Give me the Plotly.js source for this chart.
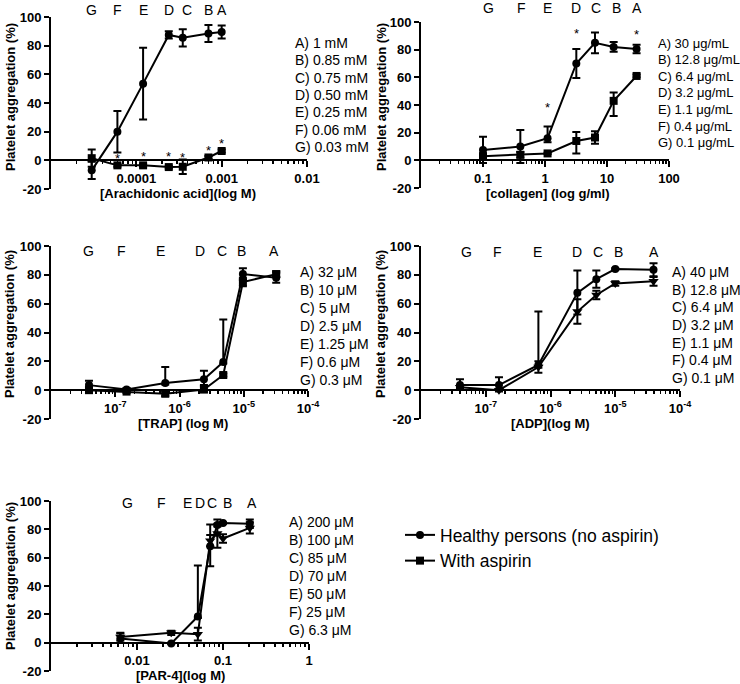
<!DOCTYPE html>
<html><head><meta charset="utf-8">
<script src="https://cdn.plot.ly/plotly-3.0.1.min.js"></script>
<style>body{margin:0;background:#fff}#chart{width:740px;height:684px}</style>
</head><body><div id="chart"></div><script>
// ---------- data (order G, F, E, D, C, B, A) ----------
const letters = ['G','F','E','D','C','B','A'];
const seriesNames = ['Healthy persons (no aspirin)', 'With aspirin'];

// Arachidonic acid (M)
const aaConc = [3e-5, 6e-5, 1.2e-4, 2.4e-4, 3.5e-4, 7e-4, 1e-3];
const aaHealthy = [-7, 20, 53.5, 87.5, 85.5, 88.5, 89.5];
const aaHealthyErr = [6, 14.5, 25, 2.5, 6, 6, 4.5];
const aaAspirin = [1.5, -3.5, -3.5, -4.7, -4.5, 2, 6.5];
const aaAspirinErr = [6, 1, 1, 1, 5, 1, 1];
const aaStars = [null, 4.2, 5.8, 5.8, 5, 10, 14.4];
const aaList = ['A) 1 mM','B) 0.85 mM','C) 0.75 mM','D) 0.50 mM','E) 0.25 mM','F) 0.06 mM','G) 0.03 mM'];
const aaTickVals = [1e-4, 1e-3, 1e-2];
const aaTickText = ['0.0001', '0.001', '0.01'];

// Collagen (g/ml axis)
const colConc = [0.1, 0.4, 1.1, 3.2, 6.4, 12.8, 30];
const colHealthy = [7.5, 10, 16, 70, 85, 82, 80.5];
const colHealthyErrPlus = [9.5, 12, 8.5, 10.5, 7.5, 3.5, 3];
const colHealthyErrMinus = [9.5, 12, 3, 10.5, 7.5, 3.5, 3];
const colAspirin = [3, 4, 5, 14, 16.5, 43, 61];
const colAspirinErrPlus = [2, 2, 0.5, 6.5, 4.5, 6, 1];
const colAspirinErrMinus = [2, 2, 0.5, 9, 4.5, 11, 1];
const colStars = [null, null, 41, 94.5, 102.5, 101.5, 93.5];
const colList = ['A) 30 μg/mL','B) 12.8 μg/mL','C) 6.4 μg/mL','D) 3.2 μg/mL','E) 1.1 μg/mL','F) 0.4 μg/mL','G) 0.1 μg/mL'];
const colTickVals = [0.1, 1, 10, 100];
const colTickText = ['0.1', '1', '10', '100'];

// TRAP (M)
const trapConc = [3.9e-8, 1.5e-7, 6e-7, 2.4e-6, 4.8e-6, 9.7e-6, 3.2e-5];
const trapHealthy = [3.5, 0.5, 5, 7.5, 19.5, 80.5, 78];
const trapHealthyErrPlus = [3, 1, 11, 6, 29.5, 4, 3.5];
const trapHealthyErrMinus = [3, 1, 1, 4, 1, 4, 3.5];
const trapAspirin = [0, -1, -2.5, 0.5, 10.5, 75, 80.5];
const trapAspirinErr = [2, 1, 1.5, 2, 1, 3, 2];
const trapList = ['A) 32 μM','B) 10 μM','C) 5 μM','D) 2.5 μM','E) 1.25 μM','F) 0.6 μM','G) 0.3 μM'];

// ADP (M)
const adpConc = [4e-8, 1.6e-7, 6.5e-7, 2.6e-6, 5.1e-6, 1e-5, 3.9e-5];
const adpHealthy = [3.5, 3.5, 17.5, 67.5, 77, 84, 83.5];
const adpHealthyErrPlus = [4, 5.5, 37, 15.5, 6, 0.5, 4.5];
const adpHealthyErrMinus = [2, 3, 2, 15, 6, 0.5, 4.5];
const adpAspirin = [2, 0, 16, 54.5, 66, 74, 75.5];
const adpAspirinErr = [1.5, 1, 4, 8.5, 3, 1.5, 3];
const adpList = ['A) 40 μM','B) 12.8 μM','C) 6.4 μM','D) 3.2 μM','E) 1.1 μM','F) 0.4 μM','G) 0.1 μM'];

const expTickVals = [1e-7, 1e-6, 1e-5, 1e-4];
const expTickText = ['10<sup>-7</sup>', '10<sup>-6</sup>', '10<sup>-5</sup>', '10<sup>-4</sup>'];

// PAR-4
const parConc = [0.0064, 0.025, 0.051, 0.071, 0.086, 0.1, 0.205];
const parHealthy = [3, -0.5, 18.5, 68, 83, 84.5, 84];
const parHealthyErrPlus = [4, 0.5, 36, 15.5, 1, 0.5, 3];
const parHealthyErrMinus = [3, 0.5, 1, 14, 1, 0.5, 3];
const parAspirin = [4, 7, 6, 72, 77, 73.5, 81];
const parAspirinErr = [2.5, 1.5, 4.5, 4, 10, 3, 4];
const parList = ['A) 200 μM','B) 100 μM','C) 85 μM','D) 70 μM','E) 50 μM','F) 25 μM','G) 6.3 μM'];
const parTickVals = [0.01, 0.1, 1];
const parTickText = ['0.01', '0.1', '1'];

const yTickVals = [-20, 0, 20, 40, 60, 80, 100];

// ---------- layout helpers ----------
const W = 740, H = 684;
const FONT = 'Arial, "Liberation Sans", Helvetica, sans-serif';
const px = v => v / W;
const py = v => 1 - v / H;
const bold = s => '<b>' + s + '</b>';

const panels = [
  {id:'', x0:51, x1:307, yT:17, yB:189, xr:[-5,-2], conc:aaConc,
   h:aaHealthy, hp:aaHealthyErr, hm:aaHealthyErr, a:aaAspirin, ap:aaAspirinErr, am:aaAspirinErr,
   aSym:'square', stars:aaStars, list:aaList, listSize:14, lx:293, ly0:43, ly1:147, letY:10,
   letShift:[0,0,0,0,4,0,0],
   tv:aaTickVals, tt:aaTickText, xt:'[Arachidonic acid](log M)', xtx:178, xty:193, ytx:10, yty:97, legend:true},
  {id:'2', x0:421, x1:669, yT:22, yB:188, xr:[-2,2], conc:colConc,
   h:colHealthy, hp:colHealthyErrPlus, hm:colHealthyErrMinus, a:colAspirin, ap:colAspirinErrPlus, am:colAspirinErrMinus,
   aSym:'square', stars:colStars, list:colList, listSize:13, lx:656, ly0:43, ly1:143, letY:8,
   letShift:[5,1,0,0,1,3,0],
   tv:colTickVals, tt:colTickText, xt:'[collagen] (log g/ml)', xtx:548, xty:193, ytx:381, yty:97},
  {id:'3', x0:51, x1:308, yT:246, yB:419, xr:[-8,-4], conc:trapConc,
   h:trapHealthy, hp:trapHealthyErrPlus, hm:trapHealthyErrMinus, a:trapAspirin, ap:trapAspirinErr, am:trapAspirinErr,
   aSym:'square', stars:null, list:trapList, listSize:14, lx:298, ly0:272, ly1:380, letY:251,
   letShift:[0,-5,-5,-4,-1,-1,-2],
   tv:expTickVals, tt:expTickText, xt:'[TRAP] (log M)', xtx:183, xty:423, ytx:10, yty:324},
  {id:'4', x0:421, x1:680, yT:246, yB:419, xr:[-8,-4], conc:adpConc,
   h:adpHealthy, hp:adpHealthyErrPlus, hm:adpHealthyErrMinus, a:adpAspirin, ap:adpAspirinErr, am:adpAspirinErr,
   aSym:'triangle-down', stars:null, list:adpList, listSize:14, lx:670, ly0:272, ly1:378, letY:252,
   letShift:[7,-1,-1,0,2,3,0],
   tv:expTickVals, tt:expTickText, xt:'[ADP](log M)', xtx:550, xty:423, ytx:381, yty:324},
  {id:'5', x0:51, x1:309, yT:501, yB:671, xr:[-3,0], conc:parConc,
   h:parHealthy, hp:parHealthyErrPlus, hm:parHealthyErrMinus, a:parAspirin, ap:parAspirinErr, am:parAspirinErr,
   aSym:'triangle-down', stars:null, list:parList, listSize:14, lx:287, ly0:522, ly1:630, letY:503,
   letShift:[7,-10,-10,-10,-5,4,2],
   tv:parTickVals, tt:parTickText, xt:'[PAR-4](log M)', xtx:180, xty:675, ytx:10, yty:576}
];

function minorVals(lo, hi) {
  const out = [];
  for (let d = lo; d < hi; d++) for (let k = 2; k <= 9; k++) out.push(k * Math.pow(10, d));
  return out;
}

const data = [];
const layout = {
  width: W, height: H, margin: {l:0, r:0, t:0, b:0},
  paper_bgcolor: '#fff', plot_bgcolor: 'rgba(0,0,0,0)',
  font: {family: FONT, color: '#000'},
  showlegend: true,
  legend: {x: px(400), y: py(517), xanchor: 'left', yanchor: 'top',
           font: {family: FONT, size: 17.5, color: '#000'}, bgcolor: 'rgba(0,0,0,0)',
           tracegroupgap: 0, itemwidth: 30},
  annotations: []
};

const tickFont = {family: FONT, size: 13, color: '#000'};

panels.forEach(p => {
  const xa = 'xaxis' + p.id, ya = 'yaxis' + p.id;
  const xr = 'x' + p.id, yr = 'y' + p.id;
  const yZeroPx = p.yT + (100 - 0) / 120 * (p.yB - p.yT);
  const pxPerDec = (p.x1 - p.x0) / (p.xr[1] - p.xr[0]);
  layout[xa] = {
    type: 'log', range: p.xr, domain: [px(p.x0), px(p.x1)],
    anchor: 'free', position: py(yZeroPx),
    showline: true, linecolor: '#000', linewidth: 2,
    ticks: 'outside', ticklen: 6, tickwidth: 2, tickcolor: '#000',
    tickvals: p.tv, ticktext: p.tt.map(bold), tickfont: tickFont,
    minor: {tickvals: minorVals(p.xr[0], p.xr[1]), ticks: 'outside', ticklen: 3, tickwidth: 1.5, tickcolor: '#000', showgrid: false},
    showgrid: false, zeroline: false, fixedrange: true
  };
  layout[ya] = {
    range: [-20, 100], domain: [py(p.yB), py(p.yT)], anchor: xr,
    showline: true, linecolor: '#000', linewidth: 2,
    ticks: 'outside', ticklen: 5, tickwidth: 2, tickcolor: '#000',
    tickvals: yTickVals, ticktext: yTickVals.map(v => bold(String(v))), tickfont: tickFont,
    showgrid: false, zeroline: false, fixedrange: true
  };

  data.push({
    type: 'scatter', mode: 'lines+markers', x: p.conc, y: p.h,
    xaxis: xr, yaxis: yr, name: seriesNames[0], showlegend: !!p.legend, legendrank: 1,
    line: {color: '#000', width: 2}, marker: {symbol: 'circle', size: 8, color: '#000'},
    error_y: {type: 'data', symmetric: false, array: p.hp, arrayminus: p.hm, color: '#000', thickness: 2, width: 4},
    cliponaxis: false
  });
  data.push({
    type: 'scatter', mode: 'lines+markers', x: p.conc, y: p.a,
    xaxis: xr, yaxis: yr, name: seriesNames[1], showlegend: !!p.legend, legendrank: 2,
    line: {color: '#000', width: 2}, marker: {symbol: p.aSym, size: p.aSym === 'square' ? 8 : 9, color: '#000'},
    error_y: {type: 'data', symmetric: false, array: p.ap, arrayminus: p.am, color: '#000', thickness: 2, width: 4},
    cliponaxis: false
  });

  // letters above the plot
  p.conc.forEach((c, i) => {
    layout.annotations.push({xref: xr, yref: 'paper', x: Math.log10(c) + p.letShift[i] / pxPerDec, y: py(p.letY),
      text: letters[i], showarrow: false, xanchor: 'center', yanchor: 'middle',
      font: {family: FONT, size: 14, color: '#000'}});
  });
  // asterisks
  if (p.stars) p.stars.forEach((s, i) => {
    if (s === null) return;
    layout.annotations.push({xref: xr, yref: yr, x: Math.log10(p.conc[i]), y: s, yshift: -4,
      text: '*', showarrow: false, xanchor: 'center', yanchor: 'middle',
      font: {family: FONT, size: 13, color: '#000'}});
  });
  // concentration list
  const step = (p.ly1 - p.ly0) / (p.list.length - 1);
  p.list.forEach((t, i) => {
    layout.annotations.push({xref: 'paper', yref: 'paper', x: px(p.lx), y: py(p.ly0 + i * step),
      text: t, showarrow: false, xanchor: 'left', yanchor: 'middle',
      font: {family: FONT, size: p.listSize, color: '#000'}});
  });
  // axis titles
  layout.annotations.push({xref: 'paper', yref: 'paper', x: px(p.xtx), y: py(p.xty),
    text: bold(p.xt), showarrow: false, xanchor: 'center', yanchor: 'middle',
    font: {family: FONT, size: 13, color: '#000'}});
  layout.annotations.push({xref: 'paper', yref: 'paper', x: px(p.ytx), y: py(p.yty),
    text: bold('Platelet aggregation (%)'), textangle: -90, showarrow: false, xanchor: 'center', yanchor: 'middle',
    font: {family: FONT, size: 13, color: '#000'}});
});

Plotly.newPlot('chart', data, layout, {staticPlot: true, displayModeBar: false});
</script></body></html>
